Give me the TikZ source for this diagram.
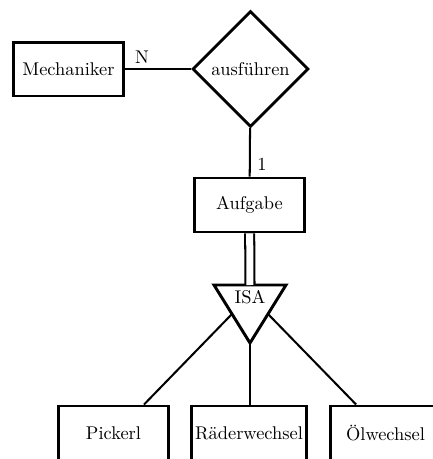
\documentclass[tikz,border=0pt]{standalone}
\usetikzlibrary{shapes.geometric,calc}
\begin{document}
\begin{tikzpicture}[x=0.543pt,y=-0.543pt,
  entity/.style={draw,line width=1.6pt,minimum width=59.7pt,minimum height=29.3pt,inner xsep=2pt,inner ysep=0pt},
  relation/.style={draw,diamond,aspect=1,line width=1.6pt,minimum width=63pt,minimum height=63pt,inner sep=1pt},
  conn/.style={line width=1.1pt},
  isaedge/.style={line width=1.6pt,line join=miter}]
\useasboundingbox (0,0) rectangle (433,459);
\node[entity] (mech) at (68.5,69) {Mechaniker};
\node[relation] (aus) at (250.5,69) {ausführen};
\node[entity] (auf) at (249.5,205) {Aufgabe};
\coordinate (t1) at (214,285);
\coordinate (t2) at (286,285);
\coordinate (t3) at (250,343);
\draw[isaedge] (t1) -- (t2) -- (t3) -- cycle;
\node (isa) at (250,297) {ISA};
\coordinate (ttop) at ($(t1)!0.5!(t2)$);
\coordinate (tleft) at ($(t1)!0.5!(t3)$);
\coordinate (tright) at ($(t2)!0.5!(t3)$);
\node[entity] (pick) at (113.5,433) {Pickerl};
\node[entity] (rad) at (249,433) {Räderwechsel};
\node[entity] (oel) at (385.5,433) {Ölwechsel};
\draw[conn] (mech) -- (aus);
\draw[conn] (aus) -- (auf);
\node (n) at (142,57) {N};
\node (one) at (262,164) {1};
\draw[conn,double,double distance=3.8pt] (auf) -- (ttop);
\draw[conn] (tleft) -- ($(pick.north west)!0.77!(pick.north east)$);
\draw[conn] (t3) -- (t3 |- rad.north);
\draw[conn] (tright) -- ($(oel.north west)!0.24!(oel.north east)$);
\end{tikzpicture}
\end{document}
